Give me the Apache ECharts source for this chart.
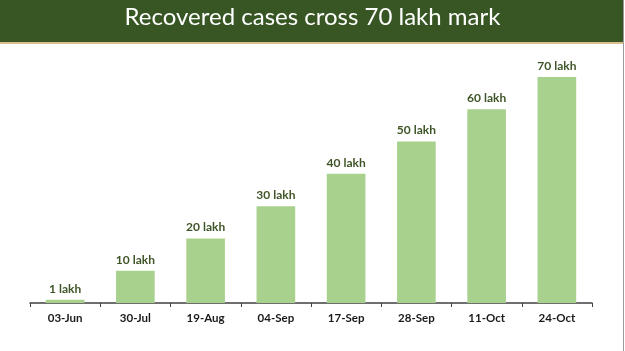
<!DOCTYPE html>
<html>
<head>
<meta charset="utf-8">
<script src="https://cdn.jsdelivr.net/npm/echarts@6/dist/echarts.min.js"></script>
<style>
  html, body { margin: 0; padding: 0; background: #fff; }
  #main { width: 625px; height: 351px; }
</style>
</head>
<body>
<div id="main"></div>
<script>
var dates = ["03-Jun", "30-Jul", "19-Aug", "04-Sep", "17-Sep", "28-Sep", "11-Oct", "24-Oct"];
var recovered = [1, 10, 20, 30, 40, 50, 60, 70];
var titleText = "Recovered cases cross 70 lakh mark";

var chart = echarts.init(document.getElementById('main'));

var option = {
    backgroundColor: '#ffffff',
    animation: false,
    graphic: [
        {
            type: 'rect',
            shape: { x: 0, y: 0, width: 623, height: 42 },
            style: { fill: '#375623' },
            z: 0
        },
        {
            type: 'rect',
            shape: { x: 0, y: 42, width: 623, height: 2 },
            style: { fill: '#d6c08f' },
            z: 0
        },
        {
            type: 'line',
            shape: { x1: 623.5, y1: 0, x2: 623.5, y2: 351 },
            style: { stroke: '#9a9a9a', lineWidth: 1 }
        },
        {
            type: 'text',
            left: 'center',
            top: 5,
            style: {
                text: titleText,
                fill: '#ffffff',
                font: '24px Lato'
            },
            z: 10
        }
    ],
    grid: { left: 30, right: 33, top: 77, bottom: 48 },
    xAxis: {
        type: 'category',
        data: dates,
        axisLine: { lineStyle: { color: '#404040', width: 1.5 } },
        axisTick: { show: true, length: 4, lineStyle: { color: '#404040' } },
        axisLabel: {
            color: '#1a1a1a',
            fontFamily: 'Lato',
            fontWeight: 'bold',
            fontSize: 11.5,
            margin: 9
        }
    },
    yAxis: {
        type: 'value',
        min: 0,
        max: 70,
        show: false,
        splitLine: { show: false }
    },
    series: [{
        type: 'bar',
        data: recovered,
        barWidth: '55%',
        itemStyle: { color: '#a9d18e' },
        label: {
            show: true,
            position: 'top',
            distance: 5,
            formatter: '{c} lakh',
            color: '#3f5528',
            fontFamily: 'Lato',
            fontWeight: 'bold',
            fontSize: 12
        }
    }]
};

chart.setOption(option);
</script>
</body>
</html>
